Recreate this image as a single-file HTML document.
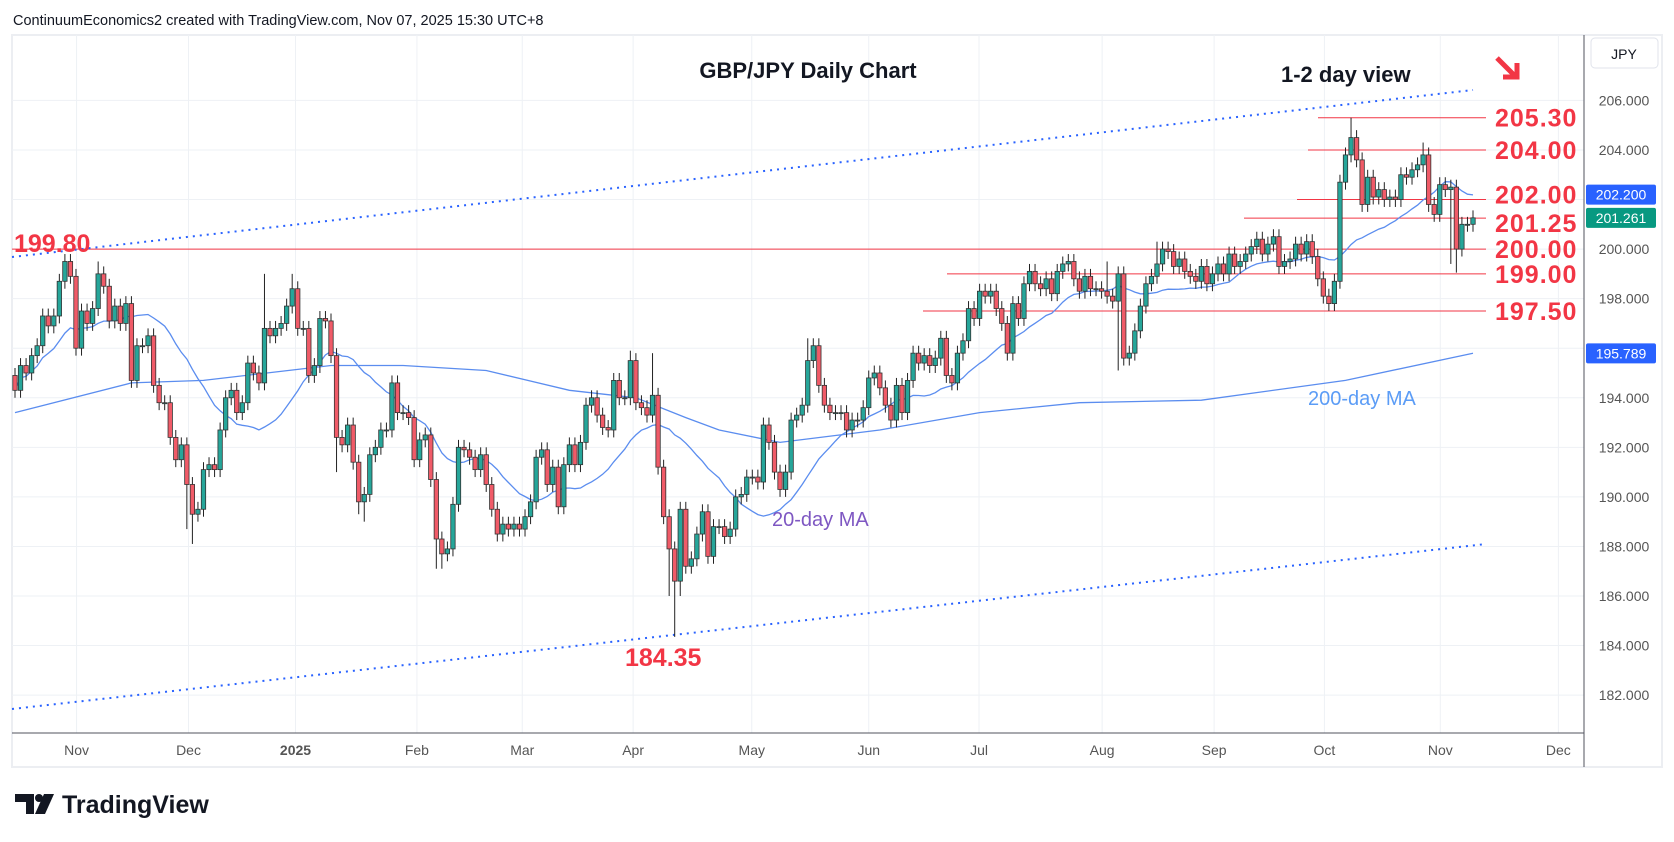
<!DOCTYPE html>
<html><head><meta charset="utf-8">
<style>
html,body{margin:0;padding:0;background:#fff;}
svg{display:block;font-family:"Liberation Sans",sans-serif;}
</style></head>
<body>
<svg id="chart" width="1674" height="842" viewBox="0 0 1674 842" xmlns="http://www.w3.org/2000/svg">
  <rect x="0" y="0" width="1674" height="842" fill="#fff"/>
  <text x="13" y="25" font-size="14.5" fill="#131722">ContinuumEconomics2 created with TradingView.com, Nov 07, 2025 15:30 UTC+8</text>
  <rect x="12" y="35" width="1650" height="732" fill="none" stroke="#eceef2" stroke-width="2"/>
  <g id="grid"></g>
  <g id="hlines"></g>
  <g id="trend"></g>
  <g id="mas"></g>
  <g id="candles"></g>
  <g id="labels"></g>
  <line x1="1584" y1="35" x2="1584" y2="767" stroke="#50535e" stroke-width="1"/>
  <line x1="12" y1="733" x2="1584" y2="733" stroke="#50535e" stroke-width="1"/>
  <g id="yaxis"></g>
  <g id="xaxis"></g>
  <rect x="1591" y="38" width="67" height="30" rx="4" fill="#fff" stroke="#e0e3eb"/>
  <text x="1624" y="59" font-size="14" text-anchor="middle" fill="#131722">JPY</text>
  <g>
    <path d="M15 794 h19 v20 h-8 v-12 h-11z" fill="#131722"/>
    <circle cx="39" cy="798" r="4" fill="#131722"/>
    <path d="M44 794 h10 l-9 20 h-10z" fill="#131722"/>
    <text x="62" y="813" font-size="25" font-weight="bold" fill="#131722">TradingView</text>
  </g>
</svg>
<script>
// ---- data ----
const closes = [
194.3,195.3,195.0,195.7,196.1,197.3,196.9,197.3,198.7,199.5,
198.9,196.0,197.5,197.0,197.6,199.0,198.5,197.1,197.7,197.0,
197.8,194.7,196.1,196.1,196.5,194.5,193.8,193.8,192.4,191.5,
192.1,190.5,189.3,189.5,191.1,191.3,191.1,192.7,194.0,194.3,
193.4,193.8,195.4,195.0,194.6,196.8,196.5,196.8,197.0,197.7,
198.4,196.8,196.8,194.9,195.3,197.2,197.1,195.7,192.4,192.1,
192.9,191.4,189.8,190.1,191.7,192.0,192.7,192.7,194.6,193.4,
193.4,193.2,191.5,192.3,192.5,
190.7,188.3,187.7,187.9,189.7,192.0,191.9,191.6,191.1,191.7,
190.5,189.5,188.5,188.9,188.7,188.9,188.7,189.2,189.8,191.6,
191.9,190.5,191.2,189.6,191.3,192.1,191.3,192.2,193.7,194.0,
193.3,192.8,192.7,194.7,194.0,194.0,195.5,193.8,193.6,193.3,
194.1,191.2,189.2,187.9,186.6,189.5,187.2,187.5,188.5,189.4,
187.6,188.8,188.8,188.4,188.7,190.0,190.1,190.8,190.8,190.6,
192.9,192.2,191.0,190.3,191.0,193.1,193.3,193.7,195.5,196.1,
194.5,193.7,193.4,193.4,
193.4,192.7,193.1,193.1,193.6,194.8,195.0,194.4,193.7,193.1,
194.5,193.4,194.7,195.8,195.4,195.7,195.3,195.6,196.4,194.9,
194.6,195.8,196.3,197.6,197.2,198.3,198.1,198.3,197.6,197.0,
195.8,197.8,197.2,198.6,199.1,198.6,198.4,198.8,198.2,199.1,
199.4,199.5,198.8,198.3,198.9,198.4,198.4,198.3,198.1,197.9,
199.0,195.6,195.8,196.7,197.7,198.6,198.9,199.4,200.0,199.9,
199.3,199.6,199.1,198.9,198.7,
199.3,198.6,199.0,199.4,199.0,199.8,199.3,199.5,199.8,200.1,
200.4,199.8,200.2,200.5,199.3,199.5,199.6,200.2,199.8,200.3,
199.7,198.8,198.1,197.8,198.7,202.7,203.8,204.5,203.6,201.8,
202.9,202.1,202.4,202.0,202.1,202.0,203.0,202.9,203.2,203.4,
203.8,201.8,201.4,202.6,202.4,202.5,200.0,201.0,201.0,201.261
];
const firstOpen = 194.9;
const highOverrides = {9:199.8,15:199.5,45:199.0,50:199.0,111:195.9,115:195.8,143:196.4,144:196.4,197:199.5,206:200.3,241:205.3,254:204.3};
const lowOverrides = {31:188.7,32:188.1,58:191.0,62:189.3,63:189.0,76:187.1,77:187.1,118:186.0,119:184.35,120:186.0,199:195.1,237:197.5,259:199.4,260:199.05};
const ma200Idx = [0,21,34,57,70,85,100,112,121,127,138,156,174,192,214,240,263];
const ma200Val = [193.4,194.6,194.7,195.3,195.3,195.1,194.3,194.0,193.2,192.7,192.2,192.7,193.4,193.8,193.9,194.7,195.8];
const monthLabels = ["Nov","Dec","2025","Feb","Mar","Apr","May","Jun","Jul","Aug","Sep","Oct","Nov","Dec"];
const monthBar = [11.1,31.3,50.6,72.5,91.5,111.5,132.9,154.0,173.9,196.1,216.3,236.2,257.1,278.4];
const priceTicks = [182,184,186,188,190,192,194,196,198,200,202,204,206];
const levels = [205.30,204.00,202.00,201.25,200.00,199.00,197.50];
const levelStart = [1318,1308,1297,1244,12,947,923];
const upperChannel = [199.68,206.42];
const lowerChannel = [181.44,188.10];

// ---- scales ----
const N = closes.length;
const X0 = 15, X1 = 1473;
const xs = i => X0 + i * (X1 - X0) / (N - 1);
const ys = p => 100.4 + (206 - p) * 24.78;
const NS = "http://www.w3.org/2000/svg";
function mk(tag, attrs, parent){ const e=document.createElementNS(NS,tag); for(const k in attrs) e.setAttribute(k,attrs[k]); parent.appendChild(e); return e; }

// grid
const grid = document.getElementById('grid');
priceTicks.forEach(p=>{ const l=mk('line',{x1:12,x2:1584,y1:ys(p),y2:ys(p),stroke:'#eef1f5','stroke-width':1},grid);

 });
monthBar.forEach(b=>{ const x=xs(b); const l=mk('line',{x1:x,x2:x,y1:35,y2:733,stroke:'#eef1f5','stroke-width':1},grid);

 });

// y axis
const yaxis=document.getElementById('yaxis');
priceTicks.forEach(p=>{ const t=mk('text',{x:1624,y:ys(p)+5,'font-size':14,'text-anchor':'middle',fill:'#555'},yaxis); t.textContent=p.toFixed(3);

 });
// x axis
const xaxis=document.getElementById('xaxis');
monthLabels.forEach((m,i)=>{ const t=mk('text',{x:xs(monthBar[i]),y:755,'font-size':14,'text-anchor':'middle',fill:'#555','font-weight':m==='2025'?'bold':'normal'},xaxis); t.textContent=m;

 });

// level lines
const hl=document.getElementById('hlines');
levels.forEach((p,i)=>{ const l=mk('line',{x1:levelStart[i],x2:1486,y1:ys(p),y2:ys(p),stroke:'#f23645','stroke-width':1},hl);


const t=mk('text',{x:1495,y:ys(p)+(p===201.25?14:p===202?4:9),'font-size':25,'font-weight':'bold',fill:'#f23645','letter-spacing':'1'},hl); t.textContent=p.toFixed(2);

 });

// channel
const tr=document.getElementById('trend');
[[upperChannel,263],[lowerChannel,265.4]].forEach(([c,endI])=>{ const l=mk('line',{x1:12,y1:ys(c[0]),x2:xs(endI),y2:ys(c[1]),stroke:'#2962ff','stroke-width':2,'stroke-dasharray':'2 5'},tr);

 });

// candles
const cg=document.getElementById('candles');
for(let i=0;i<N;i++){
  const o = i===0?firstOpen:closes[i-1], c=closes[i];
  const h = highOverrides[i]!==undefined?highOverrides[i]:Math.max(o,c)+0.3;
  const lo = lowOverrides[i]!==undefined?lowOverrides[i]:Math.min(o,c)-0.3;
  const x=xs(i), up=c>=o;
  const w=mk('line',{x1:x,x2:x,y1:ys(h),y2:ys(lo),stroke:'#222','stroke-width':1},cg);
  
  
  const top=ys(Math.max(o,c)), bh=Math.max(1,ys(Math.min(o,c))-top);
  const r=mk('rect',{x:x-2.2,y:top,width:4.4,height:bh,fill:up?'#26a69a':'#f05b68',stroke:'#333','stroke-width':0.8},cg);
  
  
}

// moving averages
const mg=document.getElementById('mas');
let d20='';
for(let i=0;i<N;i++){ const s=Math.max(0,i-19); let sum=0; for(let j=s;j<=i;j++) sum+=closes[j]; const v=sum/(i-s+1); d20+=(i?'L':'M')+xs(i).toFixed(1)+' '+ys(v).toFixed(1); }
const p20=mk('path',{d:d20,fill:'none',stroke:'#5b8def','stroke-width':1.3},mg);


let d200=''; ma200Idx.forEach((ix,k)=>{ d200+=(k?'L':'M')+xs(ix).toFixed(1)+' '+ys(ma200Val[k]).toFixed(1); });
const p200=mk('path',{d:d200,fill:'none',stroke:'#5b8def','stroke-width':1.3},mg);



// axis value tags
[[202.2,'#2962ff','202.200','ma20-tag'],[closes[N-1],'#089981','201.261','last-price-tag'],[ma200Val[ma200Val.length-1]-0.011,'#2962ff','195.789','ma200-tag']].forEach(([p,col,txt,nm])=>{
  const g=mk('g',{},yaxis);
  
  
  mk('rect',{x:1586,y:ys(p)-10,width:70,height:20,rx:2,fill:col},g);
  const t=mk('text',{x:1621,y:ys(p)+5,'font-size':14,'text-anchor':'middle',fill:'#fff'},g); t.textContent=txt;
});

// annotations
const lb=document.getElementById('labels');
function txt(x,y,s,size,col,weight,name,anchor){ const t=mk('text',{x:x,y:y,'font-size':size,fill:col,'font-weight':weight||'normal','text-anchor':anchor||'start'},lb); t.textContent=s;

 return t; }
txt(808,78,'GBP/JPY Daily Chart',22,'#131722','bold','chart-title','middle');
txt(1281,82,'1-2 day view',22,'#131722','bold','view-label');
txt(14,252,'199.80',25,'#f23645','bold','label-199-80');
txt(625,666,'184.35',25,'#f23645','bold','label-184-35');
txt(1308,405,'200-day MA',20,'#5b9cf6','normal','ma200-label');
txt(772,526,'20-day MA',20,'#7e57c2','normal','ma20-label');
const ar=mk('path',{d:'M1497 58 L1515 76 M1503 77 L1517 77 L1517 63',fill:'none',stroke:'#f23645','stroke-width':5,'stroke-linecap':'butt'},lb);


</script>
</body></html>
